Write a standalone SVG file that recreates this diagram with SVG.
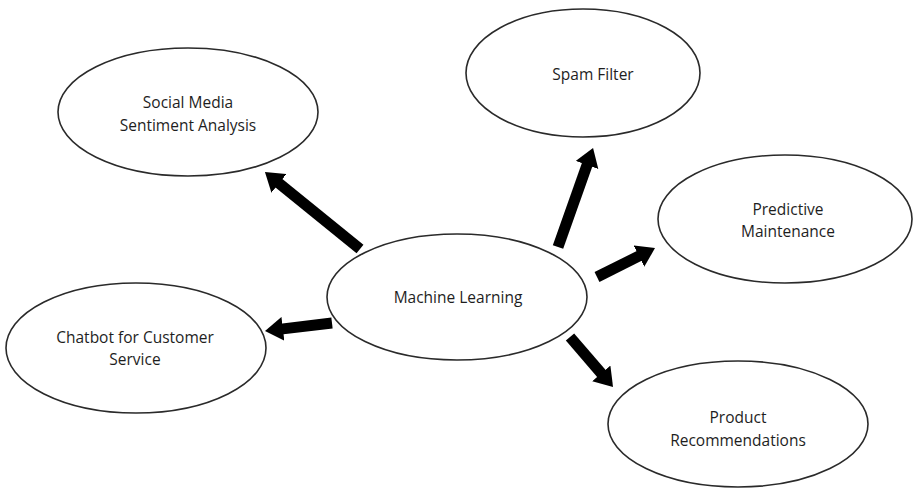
<svg xmlns="http://www.w3.org/2000/svg" width="914" height="490" viewBox="0 0 914 490">
  <style>
    .node ellipse { fill: #ffffff; stroke: #2a2a2a; stroke-width: 1.6; }
    .node text { font-family: "Open Sans", "Noto Sans", "Liberation Sans", sans-serif; font-size: 15.5px; fill: #1e1e1e; text-anchor: middle; }
    .conn line { stroke: #000000; stroke-width: 11; stroke-linecap: butt; }
  </style>
  <defs>
    <marker id="head" viewBox="0 0 18 24" markerWidth="18" markerHeight="24" refX="2" refY="12" markerUnits="userSpaceOnUse" orient="auto">
      <path d="M0,0 L18,12 L0,24 z" fill="#000000"/>
    </marker>
  </defs>
  <rect width="914" height="490" fill="#ffffff"/>

  <g id="connectors" class="conn">
    <line x1="360" y1="249" x2="277.4" y2="182.1" marker-end="url(#head)"/>
    <line x1="558" y1="247" x2="587.7" y2="163.1" marker-end="url(#head)"/>
    <line x1="597" y1="277" x2="640.7" y2="255.2" marker-end="url(#head)"/>
    <line x1="332" y1="323" x2="280.9" y2="329.1" marker-end="url(#head)"/>
    <line x1="570" y1="337" x2="602.6" y2="374.9" marker-end="url(#head)"/>
  </g>

  <g id="social-media" class="node">
    <ellipse cx="188" cy="112" rx="130" ry="64"/>
    <text x="188" y="108">Social Media</text>
    <text x="188" y="131">Sentiment Analysis</text>
  </g>
  <g id="spam-filter" class="node">
    <ellipse cx="583" cy="73" rx="117" ry="64"/>
    <text x="593" y="80">Spam Filter</text>
  </g>
  <g id="predictive-maintenance" class="node">
    <ellipse cx="785" cy="219" rx="127" ry="64"/>
    <text x="788" y="215">Predictive</text>
    <text x="788" y="237">Maintenance</text>
  </g>
  <g id="machine-learning" class="node">
    <ellipse cx="457" cy="297" rx="130" ry="63"/>
    <text x="458" y="303">Machine Learning</text>
  </g>
  <g id="chatbot" class="node">
    <ellipse cx="136" cy="348" rx="130" ry="65"/>
    <text x="135" y="343">Chatbot for Customer</text>
    <text x="135" y="365">Service</text>
  </g>
  <g id="product-recommendations" class="node">
    <ellipse cx="738" cy="424" rx="130" ry="63"/>
    <text x="738" y="423">Product</text>
    <text x="738" y="446">Recommendations</text>
  </g>
</svg>
